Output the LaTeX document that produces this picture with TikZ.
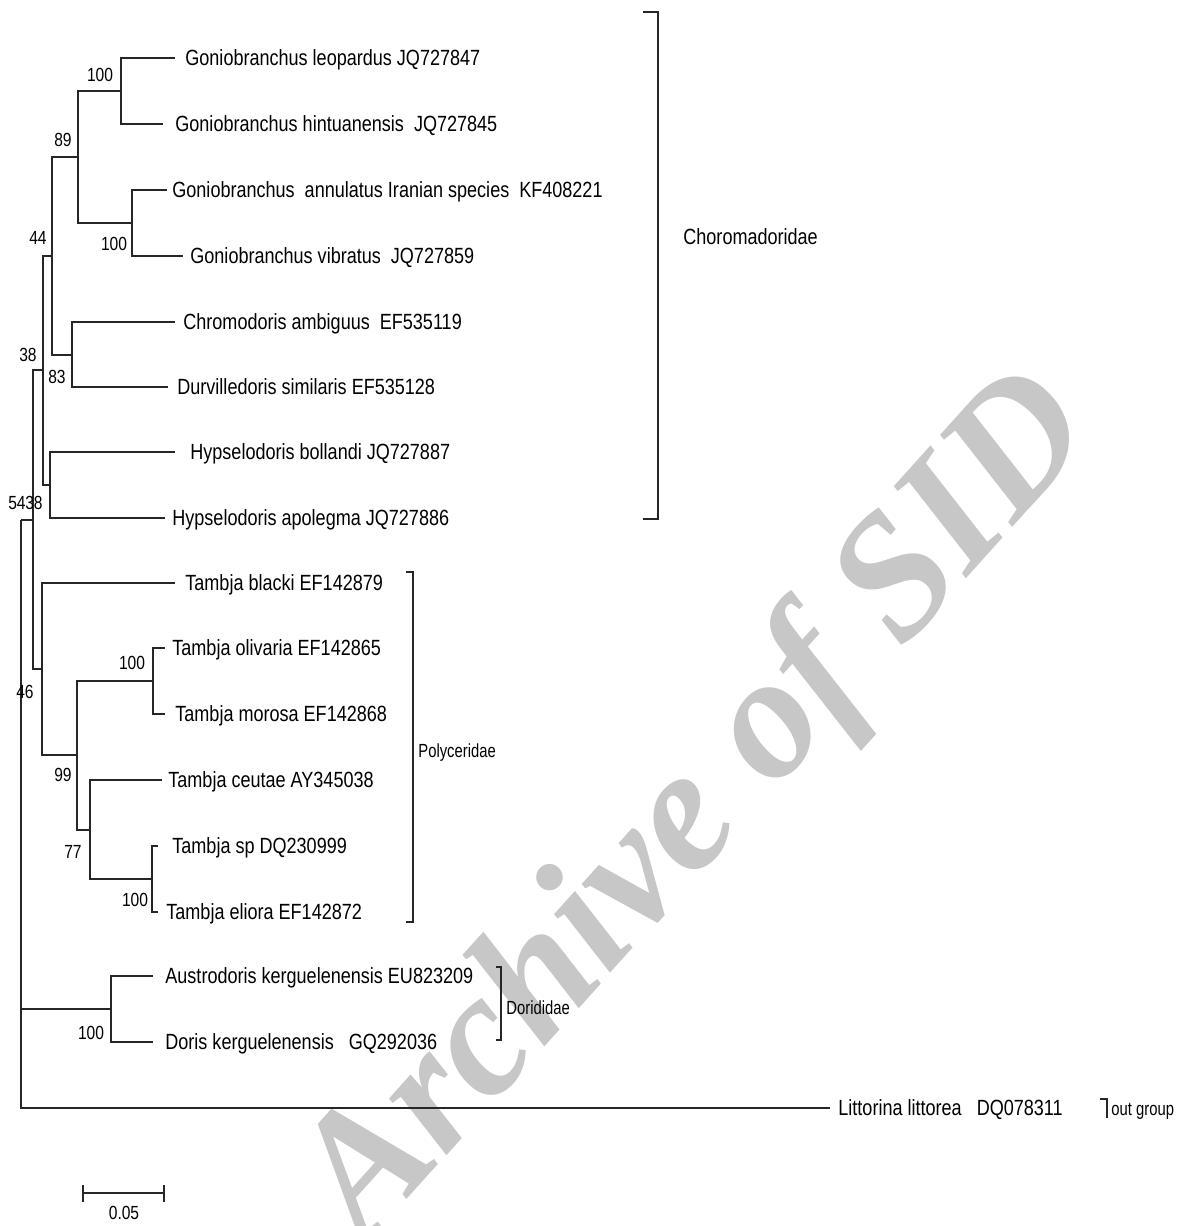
\documentclass[tikz,border=0pt]{standalone}
\usepackage{fontspec}
\setmainfont[FakeStretch=0.82]{Liberation Sans}
\newfontfamily\narrowfont[FakeStretch=0.78]{Liberation Sans}
\newfontfamily\markfont{Liberation Serif}
\definecolor{markgray}{gray}{0.78}
\tikzset{
  branch/.style={line width=0.7pt, black!85},
  taxon/.style={anchor=west, inner sep=0pt, font=\fontsize{11}{13}\selectfont, text height=0.72em, text depth=0pt},
  boot/.style={inner sep=0pt, font=\fontsize{9.5}{11}\selectfont},
  family/.style={anchor=west, inner sep=0pt, font=\narrowfont\fontsize{9.5}{11}\selectfont, text height=0.72em, text depth=0pt},
}
\begin{document}
\begin{tikzpicture}[x=0.5pt,y=-0.5pt]
    \useasboundingbox (0,0) rectangle (1194,1226);
    % watermark
    \node[rotate=48, text=markgray, font=\markfont\bfseries\itshape\fontsize{88}{88}\selectfont] (wm) at (700,810) {Archive of SID};
    % leaves: name/y/tip/label x/text
    \foreach \nm/\y/\tx/\lx/\txt in {
        Leo/58/175/185/{Goniobranchus leopardus JQ727847},
        Hin/124/163/175/{Goniobranchus hintuanensis\ \ JQ727845},
        Ann/190/167/172/{Goniobranchus\ \ annulatus Iranian species\ \ KF408221},
        Vib/256/183/190/{Goniobranchus vibratus\ \ JQ727859},
        Chr/322/175/183/{Chromodoris ambiguus\ \ EF535119},
        Dur/387/168/177/{Durvilledoris similaris EF535128},
        Bol/452/175/190/{Hypselodoris bollandi JQ727887},
        Apo/518/165/172/{Hypselodoris apolegma JQ727886},
        Bla/583/175/185/{Tambja blacki EF142879},
        Oli/648/165/172/{Tambja olivaria EF142865},
        Mor/714/165/175/{Tambja morosa EF142868},
        Ceu/780/162/168/{Tambja ceutae AY345038},
        Sp/846/158/172/{Tambja sp DQ230999},
        Eli/912/158/166/{Tambja eliora EF142872},
        Aus/976/153/165/{Austrodoris kerguelenensis EU823209},
        Dor/1042/153/165/{Doris kerguelenensis\ \ \ GQ292036},
        Lit/1108/830/838/{Littorina littorea\ \ \ DQ078311}} {
        \coordinate (t\nm) at (\tx,\y);
        \node[taxon] (l\nm) at (\lx,\y) {\txt};
    }
    % internal nodes
    \coordinate (n100a) at (121,91);
    \coordinate (n100b) at (132,223);
    \coordinate (n89) at (78,157);
    \coordinate (n83) at (72,355);
    \coordinate (n44) at (52,256);
    \coordinate (nHyp) at (50,485);
    \coordinate (n38) at (43,370);
    \coordinate (n100c) at (153,681);
    \coordinate (n100d) at (152,879);
    \coordinate (n77) at (90,830);
    \coordinate (n99) at (77,755);
    \coordinate (nPoly) at (42,669);
    \coordinate (nX) at (33,520);
    \coordinate (nDor) at (111,1009);
    \coordinate (root) at (21,520);
    \foreach \p/\c in {n100a/tLeo,n100a/tHin,n100b/tAnn,n100b/tVib,n89/n100a,n89/n100b,
        n83/tChr,n83/tDur,n44/n89,n44/n83,nHyp/tBol,nHyp/tApo,n38/n44,n38/nHyp,
        n100c/tOli,n100c/tMor,n100d/tSp,n100d/tEli,n77/tCeu,n77/n100d,n99/n100c,n99/n77,
        nPoly/tBla,nPoly/n99,nX/n38,nX/nPoly,nDor/tAus,nDor/tDor,root/nX,root/nDor,root/tLit}
        \draw[branch] (\p) |- (\c);
    % bootstrap values
    \node[boot] (b100a) at (100,75) {100};
    \node[boot] (b89) at (63,140) {89};
    \node[boot] (b100b) at (114,244) {100};
    \node[boot] (b44) at (38,238) {44};
    \node[boot] (b83) at (57,377) {83};
    \node[boot] (b38) at (28,355) {38};
    \node[boot] (bHyp) at (34,503) {38};
    \node[boot] (bX) at (17,503) {54};
    \node[boot] (bPoly) at (25,692) {46};
    \node[boot] (b100c) at (132,663) {100};
    \node[boot] (b99) at (63,775) {99};
    \node[boot] (b77) at (73,852) {77};
    \node[boot] (b100d) at (135,900) {100};
    \node[boot] (bDor) at (91,1033) {100};
    % family brackets
    \draw[branch] (643,12) -- (658,12) -- (658,519) -- (643,519);
    \node[taxon] (fChr) at (683,237) {Choromadoridae};
    \draw[branch] (406,572) -- (413,572) -- (413,922) -- (406,922);
    \node[family] (fPol) at (418,750) {Polyceridae};
    \draw[branch] (496,967) -- (501,967) -- (501,1040) -- (496,1040);
    \node[family] (fDor) at (506,1007) {Dorididae};
    \draw[branch] (1100,1099) -- (1107,1099) -- (1107,1118);
    \node[family] (fOut) at (1111,1108) {out group};
    % scale bar
    \draw[branch] (83,1185) -- (83,1202) (83,1193) -- (164,1193) (164,1185) -- (164,1202);
    \node[boot] (scale) at (124,1213) {0.05};
\end{tikzpicture}
\end{document}
